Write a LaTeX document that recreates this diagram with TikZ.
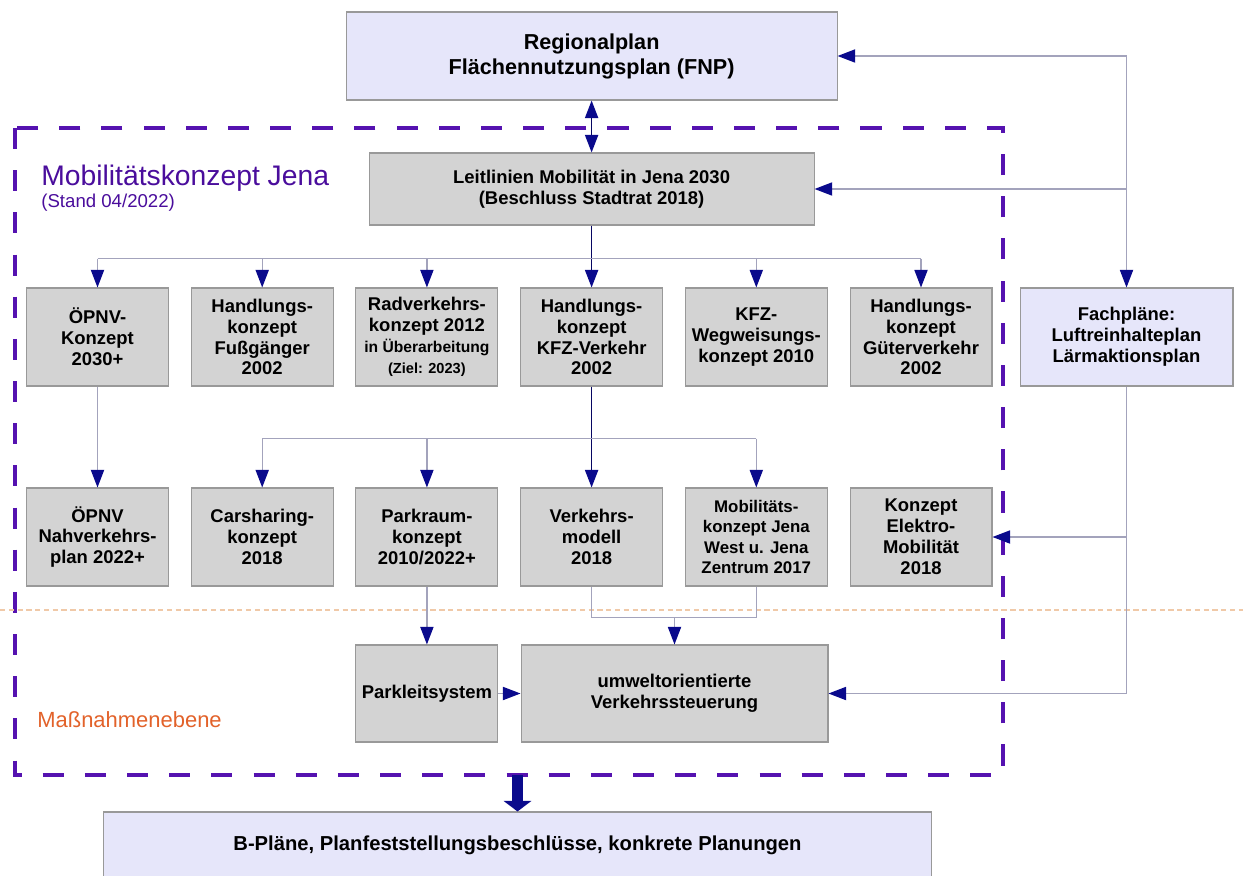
\documentclass[tikz,border=0pt]{standalone}
\usepackage{fontspec}
\setmainfont{Liberation Sans}
\setsansfont{Liberation Sans}
\usetikzlibrary{arrows.meta,positioning,calc}
\definecolor{boxGrey}{HTML}{D3D3D3}
\definecolor{planLilac}{HTML}{E6E6FA}
\definecolor{lineGrey}{HTML}{A3A3BC}
\definecolor{tipNavy}{HTML}{0A0A8C}
\definecolor{frameViolet}{HTML}{5512B0}
\definecolor{titleViolet}{HTML}{4A0D9C}
\definecolor{levelOrange}{HTML}{E2622A}
\definecolor{sepPeach}{HTML}{F0C9A8}

\begin{document}
\begin{tikzpicture}[
    x=0.02cm, y=-0.02cm,
    box/.style={rectangle, draw=black!40, fill=boxGrey, line width=0.6pt,
                minimum width=2.84cm, minimum height=1.96cm, inner sep=1pt,
                align=center, font=\bfseries\fontsize{10.5}{11.9}\selectfont},
    plan/.style={box, fill=planLilac},
    connline/.style={draw=lineGrey, line width=0.7pt},
    darkline/.style={draw=tipNavy!70!black, line width=0.8pt},
    arrow/.style={connline, -{Triangle[length=10pt, width=7.5pt, color=tipNavy]}},
    darkarrow/.style={darkline, -{Triangle[length=10pt, width=7.5pt, color=tipNavy]}},
    twoway/.style={darkline, {Triangle[length=10pt, width=7.5pt, color=tipNavy]}-{Triangle[length=10pt, width=7.5pt, color=tipNavy]}},
    fatarrow/.style={draw=tipNavy, line width=6.5pt, -{Triangle[length=6pt, width=15.5pt]}},
    frame/.style={draw=frameViolet, line width=2.3pt, dash pattern=on 12pt off 12pt},
    sepline/.style={draw=sepPeach, line width=0.6pt, dash pattern=on 3pt off 2pt},
]
    \useasboundingbox (0,0) rectangle (1243,875);

    % Rahmen Mobilitaetskonzept
    \coordinate (frameNW) at (15,128);
    \coordinate (frameSE) at (1003,775);
    \draw[frame] (frameNW) rectangle (frameSE);
    \draw[sepline] (0,610) -- (1243,610);

    \node[anchor=west, inner sep=0pt, text=titleViolet,
          font=\fontsize{16.1}{18}\selectfont] (title) at (41,178) {Mobilitätskonzept Jena};
    \node[anchor=west, inner sep=0pt, text=titleViolet,
          font=\fontsize{10.6}{12}\selectfont] (stand) at (41,203) {(Stand 04/2022)};
    \node[anchor=west, inner sep=0pt, text=levelOrange,
          font=\fontsize{12.5}{14}\selectfont] (level) at (37,720) {Maßnahmenebene};

    % obere Ebene
    \node[plan, minimum width=9.82cm, minimum height=1.76cm,
          font=\bfseries\fontsize{12.3}{14.2}\selectfont]
         (regio) at (591.6,56) {Regionalplan\\Flächennutzungsplan (FNP)};
    \node[box, minimum width=8.9cm, minimum height=1.44cm]
         (leit) at (591.6,189) {Leitlinien Mobilität in Jena 2030\\(Beschluss Stadtrat 2018)};

    % Konzepte
    \node[box] (oepnv) at (97.5,337) {ÖPNV-\\Konzept\\2030+};
    \node[box] (fuss) at (262.2,337) {Handlungs-\\konzept\\Fußgänger\\2002};
    \node[box] (rad) at (426.9,337) {Radverkehrs-\\konzept 2012\\{\fontsize{8.9}{10}\selectfont in Überarbeitung}\\{\fontsize{8.3}{9.5}\selectfont (Ziel: 2023)}};
    \node[box] (kfz) at (591.6,337) {Handlungs-\\konzept\\KFZ-Verkehr\\2002};
    \node[box] (wegw) at (756.3,337) {KFZ-\\Wegweisungs-\\konzept 2010};
    \node[box] (gueter) at (921,337) {Handlungs-\\konzept\\Güterverkehr\\2002};
    \node[plan, minimum width=4.26cm] (fach) at (1126.5,337) {Fachpläne:\\Luftreinhalteplan\\Lärmaktionsplan};

    \node[box] (nvp) at (97.5,537) {ÖPNV\\Nahverkehrs-\\plan 2022+};
    \node[box] (carsh) at (262.2,537) {Carsharing-\\konzept\\2018};
    \node[box] (parkr) at (426.9,537) {Parkraum-\\konzept\\2010/2022+};
    \node[box] (vmod) at (591.6,537) {Verkehrs-\\modell\\2018};
    \node[box, font=\bfseries\fontsize{9.6}{11.6}\selectfont]
         (west) at (756.3,537) {Mobilitäts-\\konzept Jena\\West u. Jena\\Zentrum 2017};
    \node[box] (elektro) at (921,537) {Konzept\\Elektro-\\Mobilität\\2018};

    % Massnahmen
    \node[box, minimum height=1.94cm] (pls) at (426.9,693.5) {Parkleitsystem};
    \node[box, minimum width=6.14cm, minimum height=1.94cm]
         (umwelt) at (674.5,693.5) {umweltorientierte\\Verkehrssteuerung};

    \node[plan, minimum width=16.58cm, minimum height=1.32cm,
          font=\bfseries\fontsize{11.5}{13}\selectfont]
         (bplan) at (517.5,845) {B-Pläne, Planfeststellungsbeschlüsse, konkrete Planungen};

    % Verbindungen
    \draw[twoway] (regio) -- (leit);

    \coordinate (fork1) at ($(leit.south)+(0,33)$);
    \draw[darkline] (leit.south) -- (fork1);
    \draw[connline] (fork1 -| oepnv) -- (fork1 -| gueter);
    \foreach \n in {oepnv,fuss,rad,wegw,gueter}
        \draw[arrow] (fork1 -| \n) -- (\n);
    \draw[darkarrow] (fork1) -- (kfz);

    \draw[arrow] (oepnv) -- (nvp);
    \coordinate (fork2) at ($(kfz.south)+(0,52)$);
    \draw[darkline] (kfz.south) -- (fork2);
    \draw[connline] (fork2 -| carsh) -- (fork2 -| west);
    \foreach \n in {carsh,parkr,west}
        \draw[arrow] (fork2 -| \n) -- (\n);
    \draw[darkarrow] (fork2) -- (vmod);

    \draw[arrow] (parkr) -- (pls);
    \coordinate (fork3) at ($(vmod.south)+(0,31)$);
    \draw[connline] (vmod.south) -- (fork3) -| (west.south);
    \draw[arrow] (fork3 -| umwelt) -- (umwelt);
    \draw[arrow] (pls) -- (umwelt);

    \coordinate (fachtop) at (fach.north |- regio.east);
    \draw[arrow] (fachtop) -- (regio);
    \draw[arrow] (fachtop) -- (fach);
    \draw[arrow] (fach.north |- leit.east) -- (leit);
    \draw[arrow] (fach.south) |- (umwelt.east);
    \draw[arrow] (fach.south |- elektro.east) -- (elektro);

    \draw[fatarrow] (bplan.north |- frameSE) -- (bplan);
\end{tikzpicture}
\end{document}
